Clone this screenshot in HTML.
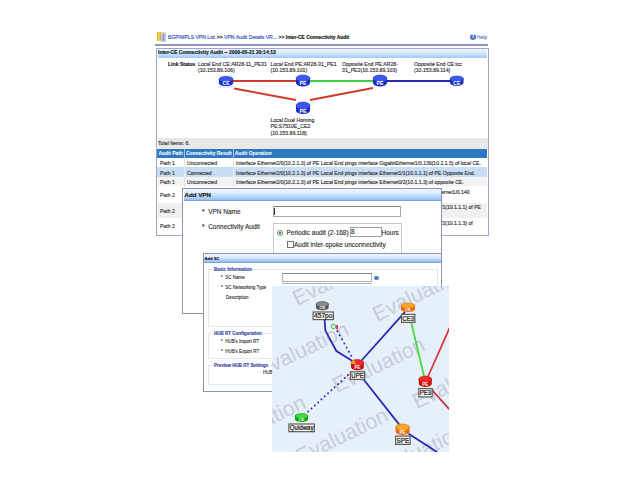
<!DOCTYPE html>
<html><head><meta charset="utf-8">
<style>
*{margin:0;padding:0;box-sizing:border-box}
html,body{width:640px;height:480px;background:#fff;overflow:hidden;position:relative;font-family:"Liberation Sans",sans-serif;color:#333}
.a{position:absolute;white-space:nowrap}
.t{font-size:5.1px;line-height:6px;-webkit-text-stroke:0.15px currentColor}
.b{font-weight:bold}
.row{position:absolute;left:157px;width:330px}
.c1{position:absolute;left:3px}
.c2{position:absolute;left:30px}
.c3{position:absolute;left:79px}
.m{font-size:6.5px;line-height:7px;color:#2c2c2c;-webkit-text-stroke:0.12px currentColor}
.s{font-size:4.5px;line-height:5px;color:#2c2c2c;-webkit-text-stroke:0.1px currentColor}
.leg{color:#2a3aa0;font-weight:bold;background:#fff;padding:0 1px}
</style></head><body>

<!-- breadcrumb -->
<div class="a" style="left:156.7px;top:32px;width:9.5px;height:2.2px;background:#ecd890;border-radius:0.5px"></div>
<div class="a" style="left:156.7px;top:32px;width:4.4px;height:8.8px;background:linear-gradient(90deg,#d8a828,#f4dc60,#d0a030);border-radius:1px"></div>
<div class="a" style="left:160.7px;top:33.4px;width:5.5px;height:8.2px;background:repeating-linear-gradient(90deg,#b4bae8 0 1px,#8a92cc 1px 1.8px);border:0.5px solid #c8ccf0"></div>
<div class="a t" style="left:168px;top:34px;color:#3050b0">BGP/MPLS VPN List <span style="color:#222">&gt;&gt;</span> VPN Audit Details VR... <span style="color:#222">&gt;&gt;</span> <span class="b" style="color:#111;font-size:4.9px">Inter-CE Connectivity Audit</span></div>
<div class="a" style="left:470px;top:34.3px;width:5.6px;height:5.6px;border-radius:50%;background:#5a78c8;color:#fff;font-size:4.5px;line-height:5.6px;text-align:center;font-weight:bold">?</div>
<div class="a t" style="left:476.5px;top:34px;color:#7080c0">Help</div>
<div class="a" style="left:155px;top:44.2px;width:332.5px;height:1.8px;background:#9096c0"></div>

<!-- main panel -->
<div class="a" style="left:156px;top:47.5px;width:332.5px;height:188.5px;border:1px solid #9ea4cc;border-left-width:1.5px;border-right-width:1.3px;background:#fff"></div>
<div class="a" style="left:157.5px;top:48.5px;width:329.7px;height:9px;background:linear-gradient(#f2f7ff,#d6e8fc 45%,#a2c8f4)"></div>
<div class="a t b" style="left:158px;top:49.3px;color:#101828;font-size:5px">Inter-CE Connectivity Audit -- 2008-05-21 20:14:13</div>

<div class="a t b" style="left:168px;top:61px;color:#181818">Link Status</div>
<div class="a t" style="left:198px;top:61px;font-size:5.2px">Local End CE:AR28-11_PE31<br>(10.153.89.106)</div>
<div class="a t" style="left:270.5px;top:61px;font-size:5.2px">Local End PE:AR28-31_PE1<br>(10.153.89.101)</div>
<div class="a t" style="left:342px;top:61px;font-size:5.2px">Opposite End PE:AR28-<br>31_PE2(10.153.89.103)</div>
<div class="a t" style="left:414px;top:61px;font-size:5.2px">Opposite End CE:icc<br>(10.153.89.114)</div>
<div class="a t" style="left:270.5px;top:117px;font-size:5.2px;line-height:6.4px">Local Dual Homing<br>PE:S7510E_CE2<br>(10.153.89.118)</div>

<svg class="a" style="left:0;top:0" width="640" height="480" font-family="Liberation Sans">
 <rect x="218" y="75" width="16" height="13" fill="#e6eefa"/>
 <line x1="233" y1="81" x2="297" y2="81" stroke="#d03a2c" stroke-width="2"/>
 <line x1="309" y1="81" x2="374" y2="81" stroke="#3cd23c" stroke-width="2"/>
 <line x1="386" y1="81" x2="451" y2="81" stroke="#2828b8" stroke-width="2"/>
 <line x1="234" y1="88.5" x2="296" y2="100" stroke="#d03a2c" stroke-width="2"/>
 <line x1="310" y1="100" x2="373" y2="88" stroke="#d03a2c" stroke-width="2"/>
 <path d="M219,79.35 L219,83.15 A7.0,2.85 0 0 0 233,83.15 L233,79.35 Z" fill="#1a2ec4"/><ellipse cx="226.0" cy="79.35" rx="7.0" ry="2.85" fill="#3c58ee" stroke="#1424a0" stroke-width="0.5"/><text x="226.0" y="84.7" font-size="5" font-weight="bold" fill="#fff" text-anchor="middle">CE</text>
 <path d="M296,78.45 L296,83.05 A7.0,3.4499999999999997 0 0 0 310,83.05 L310,78.45 Z" fill="#1a2ec4"/><ellipse cx="303.0" cy="78.45" rx="7.0" ry="3.4499999999999997" fill="#3c58ee" stroke="#1424a0" stroke-width="0.5"/><text x="303.0" y="85.2" font-size="5.4" font-weight="bold" fill="#fff" text-anchor="middle">PE</text>
 <path d="M373,78.45 L373,83.05 A7.0,3.4499999999999997 0 0 0 387,83.05 L387,78.45 Z" fill="#1a2ec4"/><ellipse cx="380.0" cy="78.45" rx="7.0" ry="3.4499999999999997" fill="#3c58ee" stroke="#1424a0" stroke-width="0.5"/><text x="380.0" y="85.2" font-size="5.4" font-weight="bold" fill="#fff" text-anchor="middle">PE</text>
 <path d="M450,78.94 L450,82.86 A6.75,2.94 0 0 0 463.5,82.86 L463.5,78.94 Z" fill="#1a2ec4"/><ellipse cx="456.75" cy="78.94" rx="6.75" ry="2.94" fill="#3c58ee" stroke="#1424a0" stroke-width="0.5"/><text x="456.75" y="84.5" font-size="5" font-weight="bold" fill="#fff" text-anchor="middle">CE</text>
 <path d="M296,105.6 L296,110.4 A7.0,3.5999999999999996 0 0 0 310,110.4 L310,105.6 Z" fill="#1a2ec4"/><ellipse cx="303.0" cy="105.6" rx="7.0" ry="3.5999999999999996" fill="#3c58ee" stroke="#1424a0" stroke-width="0.5"/><text x="303.0" y="112.7" font-size="5.4" font-weight="bold" fill="#fff" text-anchor="middle">PE</text>
</svg>
<!-- total items + table -->
<div class="a" style="left:157.5px;top:137.5px;width:330px;height:11.5px;background:#e8e8e8"></div>
<div class="a t" style="left:158px;top:140px">Total Items: 6.</div>
<div class="row" style="top:149px;height:8.5px;background:#2f78c2"></div>
<div class="a" style="left:184px;top:149px;width:1px;height:8.5px;background:#9cc0e6"></div>
<div class="a" style="left:233px;top:149px;width:1px;height:8.5px;background:#9cc0e6"></div>
<div class="row t b" style="top:151.1px;color:#fff;font-size:4.9px;-webkit-text-stroke:0.05px #fff"><span class="c1" style="left:1.4px">Audit Path</span><span class="c2" style="left:29px">Connectivity Result</span><span class="c3" style="left:77.8px">Audit Operation</span></div>

<div class="row" style="top:157.5px;height:9.5px;background:#fff"></div>
<div class="row t" style="top:160px"><span class="c1">Path 1</span><span class="c2">Unconnected</span><span class="c3">Interface Ethernet2/0(10.2.1.3) of PE Local End pings interface GigabitEthernet1/0.139(10.2.1.5) of local CE.</span></div>
<div class="row" style="top:167px;height:9.5px;background:#c9ddf5"></div>
<div class="row t" style="top:169.5px"><span class="c1">Path 1</span><span class="c2">Connected</span><span class="c3">Interface Ethernet2/0(10.2.1.3) of PE Local End pings interface Ethernet1/1(10.1.1.1) of PE Opposite End.</span></div>
<div class="row" style="top:176.5px;height:9.5px;background:#f3f3f3"></div>
<div class="row t" style="top:179px"><span class="c1">Path 1</span><span class="c2">Unconnected</span><span class="c3">Interface Ethernet2/0(10.2.1.3) of PE Local End pings interface Ethernet0/2(10.1.1.3) of opposite CE.</span></div>
<div class="row" style="top:203px;height:15px;background:#f0f0f0"></div>
<div class="a" style="left:184px;top:157.5px;width:0.8px;height:76px;background:#e2e2e2"></div>
<div class="a" style="left:233px;top:157.5px;width:0.8px;height:30px;background:#e2e2e2"></div>
<div class="a" style="left:184px;top:167px;width:0.8px;height:9.5px;background:#e6eefa"></div>
<div class="a" style="left:233px;top:167px;width:0.8px;height:9.5px;background:#e6eefa"></div>
<div class="row t" style="top:192px"><span class="c1">Path 2</span></div>
<div class="row t" style="top:208px"><span class="c1">Path 2</span></div>
<div class="row t" style="top:223px"><span class="c1">Path 2</span></div>
<div class="a t" style="left:441px;top:188.8px">ernet1/0.140</div>
<div class="a t" style="left:441px;top:204.4px">/1(10.1.1.1) of PE</div>
<div class="a t" style="left:441px;top:219.8px">/2(10.1.1.3) of</div>

<!-- Add VPN dialog -->
<div class="a" style="left:182px;top:188px;width:260px;height:125.5px;border:1px solid #8c92b4;border-left-width:1.5px;background:#fff"></div>
<div class="a" style="left:183.5px;top:189px;width:257.5px;height:11.5px;background:linear-gradient(#f4f8ff,#d4e6fc 45%,#96bff2);border-bottom:0.7px solid #7aa2dc"></div>
<div class="a m b" style="left:184.5px;top:191px;color:#111;font-size:6.2px">Add VPN</div>
<div class="a m" style="left:202px;top:208px">*&nbsp; VPN Name</div>
<div class="a m" style="left:202px;top:223px">*&nbsp; Connectivity Audit</div>
<div class="a" style="left:272.5px;top:206px;width:128px;height:11px;border:1px solid #a8a8a8;border-top-color:#808080"></div>
<div class="a" style="left:274px;top:208px;width:1px;height:7px;background:#333"></div>
<div class="a" style="left:272.5px;top:223px;width:129px;height:40px;border:1px solid #c8c8c8"></div>
<div class="a" style="left:277px;top:229.5px;width:6px;height:6px;border:1px solid #5a8a6a;border-radius:50%;background:#fff"></div>
<div class="a" style="left:279px;top:231.5px;width:2px;height:2px;border-radius:50%;background:#2a4a3a"></div>
<div class="a m" style="left:286.5px;top:229px">Periodic audit (2-168)</div>
<div class="a" style="left:349.5px;top:226.5px;width:32px;height:10.5px;border:1px solid #a0a0a0"></div>
<div class="a m" style="left:351px;top:228px">8</div>
<div class="a m" style="left:381.5px;top:229px">Hours</div>
<div class="a" style="left:286.5px;top:241px;width:7px;height:7px;border:1px solid #707070;background:#fff"></div>
<div class="a m" style="left:294px;top:241px">Audit inter-spoke unconnectivity</div>

<!-- Add SC dialog -->
<div class="a" style="left:203px;top:253px;width:239px;height:139px;border:1px solid #8c92b4;border-left-width:1.3px;background:#fff"></div>
<div class="a" style="left:204px;top:254px;width:237px;height:9px;background:linear-gradient(#f4f8ff,#d4e6fc 45%,#96bff2);border-bottom:0.6px solid #7aa2dc"></div>
<div class="a s b" style="left:204.5px;top:256px;color:#111;font-size:4.2px">Add SC</div>
<div class="a" style="left:208px;top:269px;width:230px;height:58px;border:1px solid #e4e8f0"></div>
<div class="a s leg" style="left:213px;top:266.5px">Basic Information</div>
<div class="a s" style="left:221px;top:275px">*&nbsp; SC Name</div>
<div class="a s" style="left:221px;top:285px">*&nbsp; SC Networking Type</div>
<div class="a s" style="left:226px;top:295px">Description</div>
<div class="a" style="left:282px;top:273px;width:90px;height:8.5px;border:1px solid #b0b0b0;border-top-color:#888"></div>
<div class="a" style="left:282px;top:283px;width:90px;height:3px;border-top:1px solid #b0b0b0"></div>
<div class="a" style="left:374px;top:275.5px;width:4.5px;height:4.5px;border-radius:50%;background:#4a80c8"></div>
<div class="a" style="left:208px;top:333px;width:230px;height:26px;border:1px solid #e4e8f0"></div>
<div class="a s leg" style="left:213px;top:330.5px">HUB RT Configuration</div>
<div class="a s" style="left:221px;top:339px">*&nbsp; HUB's Import RT</div>
<div class="a s" style="left:221px;top:349px">*&nbsp; HUB's Export RT</div>
<div class="a" style="left:208px;top:365px;width:230px;height:20px;border:1px solid #e4e8f0"></div>
<div class="a s leg" style="left:213px;top:362.5px">Preview HUB RT Settings</div>
<div class="a s" style="left:263px;top:370px">HUB</div>

<!-- map -->
<svg class="a" style="left:0;top:0" width="640" height="480" font-family="Liberation Sans">
 <defs><clipPath id="mc"><rect x="272" y="286" width="177" height="166"/></clipPath></defs>
 <g clip-path="url(#mc)">
 <rect x="272" y="286" width="177" height="166" fill="#e6f0fb"/>
 <g font-size="21.3" fill="#c8ccd6"><text x="217" y="290" transform="rotate(-26 217 290)">Evaluation</text><text x="177" y="361" transform="rotate(-26 177 361)">Evaluation</text><text x="297" y="306" transform="rotate(-26 297 306)">Evaluation</text><text x="261" y="378" transform="rotate(-26 261 378)">Evaluation</text><text x="218" y="451" transform="rotate(-26 218 451)">Evaluation</text><text x="377" y="322" transform="rotate(-26 377 322)">Evaluation</text><text x="337" y="393" transform="rotate(-26 337 393)">Evaluation</text><text x="300.5" y="464" transform="rotate(-26 300.5 464)">Evaluation</text><text x="457" y="338" transform="rotate(-26 457 338)">Evaluation</text><text x="417" y="409" transform="rotate(-26 417 409)">Evaluation</text><text x="377" y="480" transform="rotate(-26 377 480)">Evaluation</text><text x="457" y="496" transform="rotate(-26 457 496)">Evaluation</text></g>
 <g fill="none" stroke-width="1.8" stroke-linecap="round">
  <polyline points="324.6,320 325.4,330.6 336.4,351 352.5,361" stroke="#2a2ab4"/>
  <line x1="362" y1="360" x2="404.6" y2="312.4" stroke="#2a2ab4"/>
  <line x1="364" y1="380" x2="399.3" y2="424.6" stroke="#2a2ab4"/>
  <line x1="409" y1="434" x2="437" y2="452" stroke="#2a2ab4"/>
  <line x1="337.4" y1="331.1" x2="352.5" y2="358" stroke="#2a2ab4" stroke-width="1.9" stroke-dasharray="0.1 4.6"/>
  <line x1="348" y1="375" x2="306.6" y2="413" stroke="#2a2ab4" stroke-width="1.9" stroke-dasharray="0.1 4.4"/>
  <line x1="411.4" y1="323" x2="424" y2="376" stroke="#44dd44"/>
  <line x1="428" y1="376.5" x2="450" y2="327" stroke="#d83838"/>
  <line x1="432" y1="390" x2="450" y2="410" stroke="#c83040"/>
 </g>
 <path d="M316,304.14 L316,307.66 A6.3,2.64 0 0 0 328.6,307.66 L328.6,304.14 Z" fill="#555"/><ellipse cx="322.30" cy="304.14" rx="6.30" ry="2.64" fill="#8a8a8a" stroke="#444" stroke-width="0.5"/><text x="322.30" y="308.90" font-size="4" font-weight="bold" fill="#fff" text-anchor="middle">CE</text>
 <rect x="313.10" y="312.00" width="20.30" height="7.60" fill="#f7f7ee" stroke="#5c5c5c" stroke-width="1.2"/><text x="323.25" y="318.10" font-size="7.5" fill="#111" stroke="#111" stroke-width="0.2" text-anchor="middle" textLength="18.50" lengthAdjust="spacingAndGlyphs">457po</text>
 <path d="M401,305.7 L401,309.3 A7.0,2.6999999999999997 0 0 0 415,309.3 L415,305.7 Z" fill="#e27012"/><ellipse cx="408.00" cy="305.70" rx="7.00" ry="2.70" fill="#ffa42a" stroke="#c86000" stroke-width="0.5"/><text x="408.00" y="310.60" font-size="4" font-weight="bold" fill="#fff" text-anchor="middle">CE</text>
 <rect x="401.60" y="314.40" width="13.30" height="8.00" fill="#f7f7ee" stroke="#5c5c5c" stroke-width="1.2"/><text x="408.25" y="320.90" font-size="6.8" fill="#111" stroke="#111" stroke-width="0.2" text-anchor="middle" textLength="11.50" lengthAdjust="spacingAndGlyphs">CE3</text>
 <path d="M351,362.71 L351,366.99 A6.4,3.2099999999999995 0 0 0 363.8,366.99 L363.8,362.71 Z" fill="#c41010"/><ellipse cx="357.40" cy="362.71" rx="6.40" ry="3.21" fill="#f02a2a" stroke="#a00000" stroke-width="0.5"/><text x="357.40" y="368.80" font-size="4.5" font-weight="bold" fill="#fff" text-anchor="middle">PE</text>
 <rect x="350.40" y="371.80" width="14.20" height="7.60" fill="#f7f7ee" stroke="#5c5c5c" stroke-width="1.2"/><text x="357.50" y="377.90" font-size="6.8" fill="#111" stroke="#111" stroke-width="0.2" text-anchor="middle" textLength="12.40" lengthAdjust="spacingAndGlyphs">UPE</text>
 <path d="M418.8,379.3 L418.8,383.7 A6.5,3.3 0 0 0 431.8,383.7 L431.8,379.3 Z" fill="#c41010"/><ellipse cx="425.30" cy="379.30" rx="6.50" ry="3.30" fill="#f02a2a" stroke="#a00000" stroke-width="0.5"/><text x="425.30" y="385.60" font-size="4.5" font-weight="bold" fill="#fff" text-anchor="middle">PE</text>
 <rect x="418.80" y="388.60" width="13.40" height="8.30" fill="#f7f7ee" stroke="#5c5c5c" stroke-width="1.2"/><text x="425.50" y="395.40" font-size="6.8" fill="#111" stroke="#111" stroke-width="0.2" text-anchor="middle" textLength="11.60" lengthAdjust="spacingAndGlyphs">PE3</text>
 <path d="M295,416.05 L295,419.45 A6.5,2.55 0 0 0 308,419.45 L308,416.05 Z" fill="#10a810"/><ellipse cx="301.50" cy="416.05" rx="6.50" ry="2.55" fill="#40e040" stroke="#008000" stroke-width="0.5"/><text x="301.50" y="420.60" font-size="4" font-weight="bold" fill="#fff" text-anchor="middle">CE</text>
 <rect x="288.90" y="424.00" width="25.50" height="7.70" fill="#f7f7ee" stroke="#5c5c5c" stroke-width="1.2"/><text x="301.65" y="430.20" font-size="6.5" fill="#111" stroke="#111" stroke-width="0.2" text-anchor="middle" textLength="23.70" lengthAdjust="spacingAndGlyphs">Quidway</text>
 <path d="M395.6,427.3 L395.6,431.7 A7.0,3.3 0 0 0 409.6,431.7 L409.6,427.3 Z" fill="#e27012"/><ellipse cx="402.60" cy="427.30" rx="7.00" ry="3.30" fill="#ffa42a" stroke="#c86000" stroke-width="0.5"/><text x="402.60" y="433.60" font-size="4.5" font-weight="bold" fill="#fff" text-anchor="middle">PE</text>
 <rect x="395.60" y="436.10" width="14.50" height="8.30" fill="#f7f7ee" stroke="#5c5c5c" stroke-width="1.2"/><text x="402.85" y="442.90" font-size="6.8" fill="#111" stroke="#111" stroke-width="0.2" text-anchor="middle" textLength="12.70" lengthAdjust="spacingAndGlyphs">SPE</text>
 <path d="M350.5,364 l2.8,-5 l2.8,5 z" fill="#f0a020"/>
 <path d="M395,428 l2.8,-5 l2.8,5 z" fill="#f0a020"/>
 <circle cx="333.5" cy="326.5" r="2.2" fill="none" stroke="#40b040" stroke-width="1"/>
 <rect x="336" y="325" width="2" height="4" fill="#e04050"/>
 </g>
</svg>
</body></html>
